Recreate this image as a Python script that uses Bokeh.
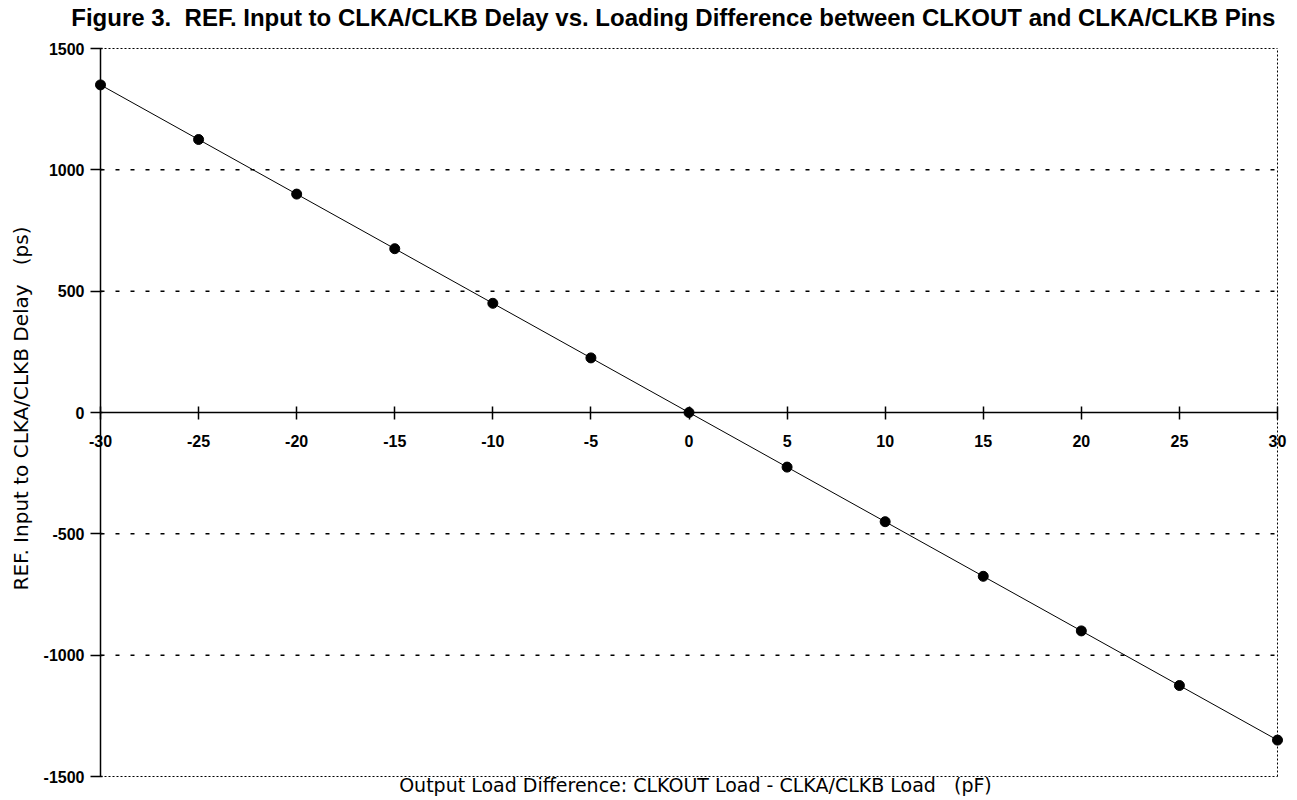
import math
from bokeh.plotting import figure
from bokeh.models import LinearAxis, FixedTicker, Range1d, Label, CustomJSTickFormatter
from bokeh.embed import file_html
from bokeh.resources import INLINE

load_diff_pf = [-30, -25, -20, -15, -10, -5, 0, 5, 10, 15, 20, 25, 30]
delay_ps = [1350, 1125, 900, 675, 450, 225, 0, -225, -450, -675, -900, -1125, -1350]
x_ticks = [-30, -25, -20, -15, -10, -5, 0, 5, 10, 15, 20, 25, 30]
y_ticks = [-1500, -1000, -500, 0, 500, 1000, 1500]
grid_levels = [-1000, -500, 500, 1000]

NB = "\u00a0"
title_text = "Figure 3." + NB + " REF. Input to CLKA/CLKB Delay vs. Loading Difference between CLKOUT and CLKA/CLKB Pins"
x_label = "Output Load Difference: CLKOUT Load - CLKA/CLKB Load " + NB + NB + "(pF)"
y_label = "REF. Input to CLKA/CLKB Delay " + NB + NB + "(ps)"

x_min, x_max = x_ticks[0], x_ticks[-1]
y_min, y_max = y_ticks[0], y_ticks[-1]

W, H = 1297, 800
# pixel placement of the data box inside the canvas
left_px, right_px, top_px, bottom_px = 100, 1277, 48, 776
sx = (right_px - left_px) / (x_max - x_min)
sy = (bottom_px - top_px) / (y_max - y_min)
xr = Range1d(x_min - left_px / sx, x_max + (W - right_px) / sx)
yr = Range1d(y_min - (H - bottom_px) / sy, y_max + top_px / sy)

fmt = CustomJSTickFormatter(code="return tick.toFixed(0);")

p = figure(width=W, height=H, output_backend="svg", toolbar_location=None,
           x_range=xr, y_range=yr, x_axis_location=None, y_axis_location=None,
           min_border_left=0, min_border_right=0, min_border_top=0, min_border_bottom=0)
p.outline_line_color = None
p.background_fill_color = "white"
p.border_fill_color = "white"
p.xgrid.visible = False
p.ygrid.visible = False

# dashed horizontal grid
p.segment(x0=[x_min] * len(grid_levels), x1=[x_max] * len(grid_levels),
          y0=grid_levels, y1=grid_levels, line_color="black", line_dash="4 11", line_width=1.5)

# dotted box: top, right, bottom
p.segment(x0=[x_min, x_max, x_min], x1=[x_max, x_max, x_max],
          y0=[y_max, y_min, y_min], y1=[y_max, y_max, y_min],
          line_color="black", line_dash="2 2", line_width=1)

# y axis at left edge
ya = LinearAxis(fixed_location=x_min, bounds=(y_min, y_max),
                ticker=FixedTicker(ticks=y_ticks), formatter=fmt)
ya.axis_line_color = "black"
ya.axis_line_width = 1.5
ya.major_tick_in = 2
ya.major_tick_out = 10
ya.major_tick_line_width = 1.5
ya.minor_tick_line_color = None
ya.major_label_text_font = "Liberation Sans"
ya.major_label_text_font_style = "bold"
ya.major_label_text_font_size = "16px"
ya.major_label_text_color = "black"
ya.major_label_standoff = 6
p.add_layout(ya, "left")

# x axis through y=0
xa = LinearAxis(fixed_location=0, bounds=(x_min, x_max),
                ticker=FixedTicker(ticks=x_ticks), formatter=fmt)
xa.axis_line_color = "black"
xa.axis_line_width = 1.5
xa.major_tick_in = 6
xa.major_tick_out = 7
xa.major_tick_line_width = 1.5
xa.minor_tick_line_color = None
xa.major_label_text_font = "Liberation Sans"
xa.major_label_text_font_style = "bold"
xa.major_label_text_font_size = "16px"
xa.major_label_text_color = "black"
xa.major_label_standoff = 15
p.add_layout(xa, "below")

# data
p.line(load_diff_pf, delay_ps, line_color="black", line_width=1)
p.scatter(load_diff_pf, delay_ps, size=10, fill_color="black", line_color="black")

# texts
p.add_layout(Label(x=-0.8, y=y_max, y_offset=31, text=title_text,
                   text_align="center", text_baseline="middle",
                   text_font="Liberation Sans", text_font_size="24px", text_font_style="bold",
                   text_color="black"))
p.add_layout(Label(x=0.33, y=y_min, y_offset=-8, text=x_label,
                   text_align="center", text_baseline="middle",
                   text_font="DejaVu Sans", text_font_size="19px", text_color="black"))
p.add_layout(Label(x=x_min, x_offset=-80, y=0, y_offset=4, text=y_label, angle=math.pi / 2,
                   text_align="center", text_baseline="middle",
                   text_font="DejaVu Sans", text_font_size="20px", text_color="black"))

open("out.html", "w").write(file_html(p, INLINE))
